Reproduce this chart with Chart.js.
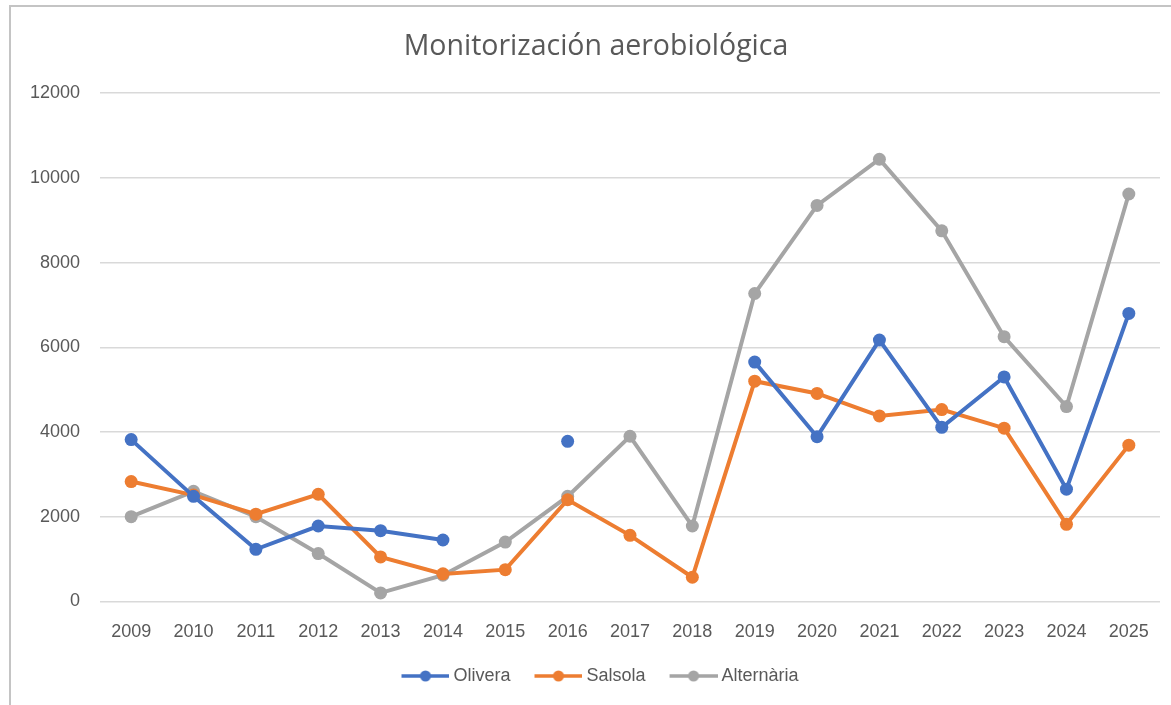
<!DOCTYPE html>
<html>
<head>
<meta charset="utf-8">
<script src="https://cdn.jsdelivr.net/npm/chart.js@4.4.1/dist/chart.umd.min.js"></script>
<style>
  html, body { margin: 0; padding: 0; background: #ffffff; }
  #wrap { position: relative; width: 1171px; height: 705px; overflow: hidden; }
  #frame { position: absolute; left: 9px; top: 5px; right: -5px; bottom: -5px; border-top: 2px solid #c4c4c4; border-left: 2px solid #c4c4c4; pointer-events: none; }
  canvas { position: absolute; left: 0; top: 0; }
</style>
</head>
<body>
<div id="wrap">
  <canvas id="c" width="1171" height="705"></canvas>
  <div id="frame"></div>
</div>
<script>
const years = ['2009','2010','2011','2012','2013','2014','2015','2016','2017','2018','2019','2020','2021','2022','2023','2024','2025'];
const olivera    = [3820, 2480, 1230, 1780, 1670, 1450, null, 3780, null, null, 5650, 3890, 6170, 4110, 5300, 2650, 6800];
const salsola    = [2830, 2510, 2060, 2530, 1050, 650, 750, 2400, 1560, 570, 5200, 4910, 4380, 4530, 4090, 1820, 3690];
const alternaria = [2000, 2600, 2000, 1130, 200, 620, 1400, 2480, 3900, 1780, 7270, 9350, 10440, 8750, 6250, 4600, 9620];
const seriesNames = ['Olivera', 'Salsola', 'Alternària'];
const colors = ['#4472C4', '#ED7D31', '#A5A5A5'];

function legendImg(color) {
  const cv = document.createElement('canvas');
  cv.width = 73; cv.height = 14;
  const g = cv.getContext('2d');
  g.strokeStyle = color; g.lineWidth = 3.5;
  g.beginPath(); g.moveTo(25, 7); g.lineTo(73, 7); g.stroke();
  g.fillStyle = color;
  g.beginPath(); g.arc(49, 7, 5.5, 0, Math.PI * 2); g.fill();
  return cv;
}

const font = "'Liberation Sans', 'DejaVu Sans', sans-serif";
const allData = [olivera, salsola, alternaria];

const shiftPlugin = {
  id: 'shiftBlocks',
  afterLayout(chart) {
    if (chart.titleBlock) { chart.titleBlock.left += 16; chart.titleBlock.right += 16; }
    if (chart.legend) { chart.legend.left += 10; chart.legend.right += 10; }
  }
};

new Chart(document.getElementById('c'), {
  type: 'line',
  data: {
    labels: years,
    datasets: allData.map((d, i) => ({
      label: seriesNames[i],
      data: d,
      borderColor: colors[i],
      backgroundColor: colors[i],
      borderWidth: 4,
      pointRadius: 6.5,
      pointHoverRadius: 6.5,
      pointBorderWidth: 0,
      spanGaps: false,
      tension: 0,
      pointStyle: 'circle',
      legendImage: legendImg(colors[i])
    }))
  },
  plugins: [shiftPlugin],
  options: {
    responsive: false,
    animation: false,
    layout: { padding: { left: 0, right: 11, top: 0, bottom: 10 } },
    plugins: {
      tooltip: { enabled: false },
      title: {
        display: true,
        text: 'Monitorización aerobiológica',
        color: '#595959',
        font: { family: "'Open Sans', sans-serif", size: 28.5, weight: 'normal' },
        padding: { top: 30, bottom: 29 }
      },
      legend: {
        position: 'bottom',
        labels: {
          color: '#595959',
          font: { family: font, size: 18 },
          usePointStyle: true,
          pointStyleWidth: 63,
          padding: 4,
          generateLabels: (chart) => chart.data.datasets.map((ds, i) => ({
            text: ds.label,
            pointStyle: ds.legendImage,
            fillStyle: ds.borderColor,
            strokeStyle: ds.borderColor,
            lineWidth: 0,
            fontColor: '#595959',
            datasetIndex: i
          }))
        }
      }
    },
    scales: {
      x: {
        offset: true,
        grid: { display: false, drawTicks: false },
        border: { display: false },
        ticks: { color: '#595959', font: { family: font, size: 18 }, padding: 20, maxRotation: 0, autoSkip: false }
      },
      y: {
        min: 0, max: 12000,
        afterFit: (s) => { s.width = 100; },
        grid: { color: '#d9d9d9', lineWidth: 1.5, drawTicks: false },
        border: { display: false },
        ticks: { stepSize: 2000, color: '#595959', font: { family: font, size: 18 }, padding: 20,
                 callback: (v) => String(v) }
      }
    }
  }
});
</script>
</body>
</html>
